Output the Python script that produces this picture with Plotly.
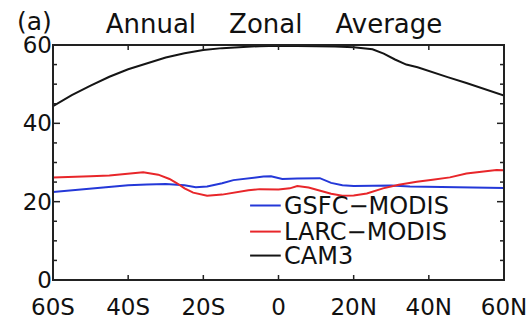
import plotly.graph_objects as go

# Latitude (degrees, negative = south) and zonal-mean values for each product
lat_gsfc = [-60, -55, -50, -45, -40, -35, -30, -25, -22, -19, -15, -12, -8, -4, -2,
            1, 5, 11, 14, 17, 20, 25, 30, 35, 40, 45, 50, 55, 60]
gsfc = [22.5, 22.9, 23.3, 23.8, 24.2, 24.4, 24.5, 24.2, 23.7, 23.9, 24.7, 25.5, 26.0, 26.4, 26.5,
        25.8, 25.9, 26.0, 24.8, 24.2, 24.0, 24.0, 24.1, 23.9, 23.8, 23.7, 23.6, 23.5, 23.5]

lat_larc = [-60, -55, -50, -45, -40, -36, -32, -29, -27, -25, -22.7, -19, -15, -12, -8, -5,
            0, 3, 5, 8, 11, 14, 17, 20, 23.5, 27.8, 32, 36.8, 41, 45.6, 50, 55, 58, 60]
larc = [26.2, 26.3, 26.5, 26.7, 27.2, 27.5, 26.9, 25.8, 24.7, 23.4, 22.3, 21.5, 21.8, 22.3, 22.9, 23.2,
        23.1, 23.4, 24.0, 23.6, 22.8, 22.0, 21.5, 21.6, 22.1, 23.4, 24.3, 25.1, 25.6, 26.2, 27.2, 27.7, 28.1, 28.0]

lat_cam3 = [-60, -55, -50, -45, -40, -35, -30, -25, -20, -15, -10, -5, 0, 5, 10, 15, 20,
            25, 28, 31, 34, 37, 40, 45, 50, 55, 60]
cam3 = [44.4, 47.2, 49.6, 51.9, 53.8, 55.4, 56.8, 57.9, 58.7, 59.2, 59.5, 59.7, 59.8, 59.8, 59.7, 59.6, 59.4,
        58.9, 57.8, 56.3, 55.0, 54.3, 53.3, 51.8, 50.3, 48.7, 47.1]

x_tickvals = [-60, -40, -20, 0, 20, 40, 60]
x_ticktext = ["60S", "40S", "20S", "0", "20N", "40N", "60N"]
y_tickvals = [0, 20, 40, 60]
y_minor_step = 5

series_names = ["GSFC\u2212MODIS", "LARC\u2212MODIS", "CAM3"]
series_colors = ["#2438d8", "#e8262a", "#151515"]

FONT = "DejaVu Sans"
AXIS_COLOR = "#222222"
TEXT_COLOR = "#111111"
CLEAR = "rgba(0,0,0,0)"

WIDTH, HEIGHT = 531, 323
MARGIN = dict(l=53, r=27, t=45, b=43)
plot_w = WIDTH - MARGIN["l"] - MARGIN["r"]
plot_h = HEIGHT - MARGIN["t"] - MARGIN["b"]

fig = go.Figure()
for lat, vals, name, color in zip([lat_gsfc, lat_larc, lat_cam3], [gsfc, larc, cam3],
                                  series_names, series_colors):
    fig.add_trace(go.Scatter(x=lat, y=vals, mode="lines", name=name,
                             line=dict(color=color, width=2), showlegend=False))

# Box frame around the plotting area
fig.add_shape(type="rect", xref="paper", yref="paper", x0=0, x1=1, y0=0, y1=1,
              line=dict(color=AXIS_COLOR, width=2), layer="above")

# Inward-pointing tick marks on all four sides, placed through the axis scales
x_tick_len = 5 / plot_h
for xv in x_tickvals:
    for y0, y1 in [(0, x_tick_len), (1, 1 - x_tick_len)]:
        fig.add_shape(type="line", xref="x", yref="paper", x0=xv, x1=xv, y0=y0, y1=y1,
                      line=dict(color=AXIS_COLOR, width=1.5), layer="above")

y_major_len = 7 / plot_w
y_minor_len = 4 / plot_w
for yv in range(y_tickvals[0], y_tickvals[-1] + 1, y_minor_step):
    tick_len = y_major_len if yv in y_tickvals else y_minor_len
    for x0, x1 in [(0, tick_len), (1, 1 - tick_len)]:
        fig.add_shape(type="line", xref="paper", yref="y", x0=x0, x1=x1, y0=yv, y1=yv,
                      line=dict(color=AXIS_COLOR, width=1.5), layer="above")

# Legend drawn inside the plot: short line sample followed by the label
legend_y = [0.317, 0.206, 0.104]
for name, color, ly in zip(series_names, series_colors, legend_y):
    fig.add_shape(type="line", xref="paper", yref="paper",
                  x0=0.437, x1=0.505, y0=ly, y1=ly,
                  line=dict(color=color, width=2))
    fig.add_annotation(text=name, xref="paper", yref="paper", x=0.507, y=ly,
                       xanchor="left", yanchor="middle", showarrow=False,
                       font=dict(family=FONT, size=24, color=TEXT_COLOR))

fig.add_annotation(text="(a)", xref="paper", yref="paper", x=-0.085, y=1.1,
                   xanchor="left", yanchor="middle", showarrow=False,
                   font=dict(family=FONT, size=25, color=TEXT_COLOR))

fig.update_layout(
    template="none",
    width=WIDTH, height=HEIGHT,
    margin=MARGIN,
    title=dict(text="Annual\u00a0\u00a0\u00a0\u00a0Zonal\u00a0\u00a0\u00a0\u00a0Average", x=0.516,
               xanchor="center", y=0.926, yanchor="middle",
               font=dict(family=FONT, size=26, color=TEXT_COLOR)),
    font=dict(family=FONT, size=23, color=TEXT_COLOR),
    showlegend=False,
    xaxis=dict(range=[-60, 60], tickvals=x_tickvals, ticktext=x_ticktext,
               showline=False, showgrid=False, zeroline=False,
               ticks="outside", ticklen=6, tickcolor=CLEAR,
               tickfont=dict(family=FONT, size=23, color=TEXT_COLOR)),
    yaxis=dict(range=[0, 60], tickvals=y_tickvals,
               showline=False, showgrid=False, zeroline=False,
               tickfont=dict(family=FONT, size=23, color=TEXT_COLOR)),
)

fig.write_html("out.html")
